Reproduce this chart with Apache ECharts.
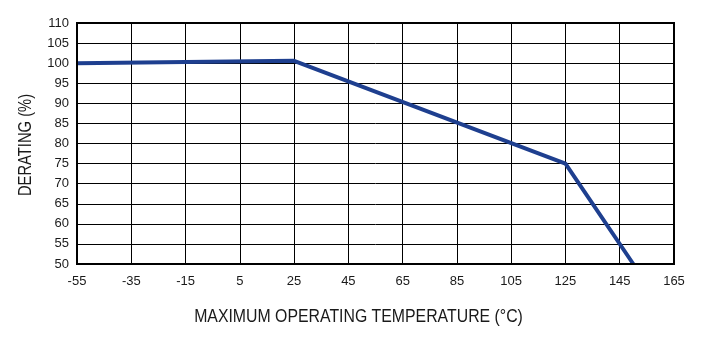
<!DOCTYPE html>
<html><head><meta charset="utf-8">
<script src="https://cdn.jsdelivr.net/npm/echarts@6/dist/echarts.min.js"></script>
<style>html,body{margin:0;padding:0;background:#fff}#c{width:718px;height:346px}</style>
</head><body><div id="c"></div>
<script>
const temps = [-55, 25, 125, 150];
const derating = [100, 100.6, 75, 50];
const xTitle = 'MAXIMUM OPERATING TEMPERATURE (°C)';
const yTitle = 'DERATING (%)';
const chart = echarts.init(document.getElementById('c'));
const font = '"Liberation Sans", Arial, sans-serif';
chart.setOption({
  animation: false,
  grid: {left: 77, right: 44, top: 23, bottom: 82},
  xAxis: {
    type: 'value', min: -55, max: 165, interval: 20,
    axisLine: {show: true, onZero: false, lineStyle: {color: '#000', width: 2}},
    axisTick: {show: false},
    axisLabel: {fontFamily: font, fontSize: 13, color: '#1a1a1a', margin: 11},
    splitLine: {show: true, lineStyle: {color: '#000', width: 1}}
  },
  yAxis: {
    type: 'value', min: 50, max: 110, interval: 5,
    axisLine: {show: true, onZero: false, lineStyle: {color: '#000', width: 2}},
    axisTick: {show: false},
    axisLabel: {fontFamily: font, fontSize: 13, color: '#1a1a1a', margin: 8},
    splitLine: {show: true, lineStyle: {color: '#000', width: 1}}
  },
  series: [{
    type: 'line', data: temps.map((t, i) => [t, derating[i]]),
    symbol: 'none', lineStyle: {color: '#1e3f8f', width: 4},
    clip: true
  }],
  graphic: [{
    type: 'rect', shape: {x: 77, y: 23, width: 597, height: 241},
    style: {fill: 'none', stroke: '#000', lineWidth: 2}, z: 100
  }, {
    type: 'text', x: 358.5, y: 317, scaleX: 0.88,
    style: {text: xTitle, font: '18px ' + font, fill: '#1a1a1a', textAlign: 'center', textVerticalAlign: 'middle'}
  }, {
    type: 'text', x: 26, y: 145, scaleX: 0.82, rotation: Math.PI / 2,
    style: {text: yTitle, font: '18px ' + font, fill: '#1a1a1a', textAlign: 'center', textVerticalAlign: 'middle'}
  }]
});
</script></body></html>
